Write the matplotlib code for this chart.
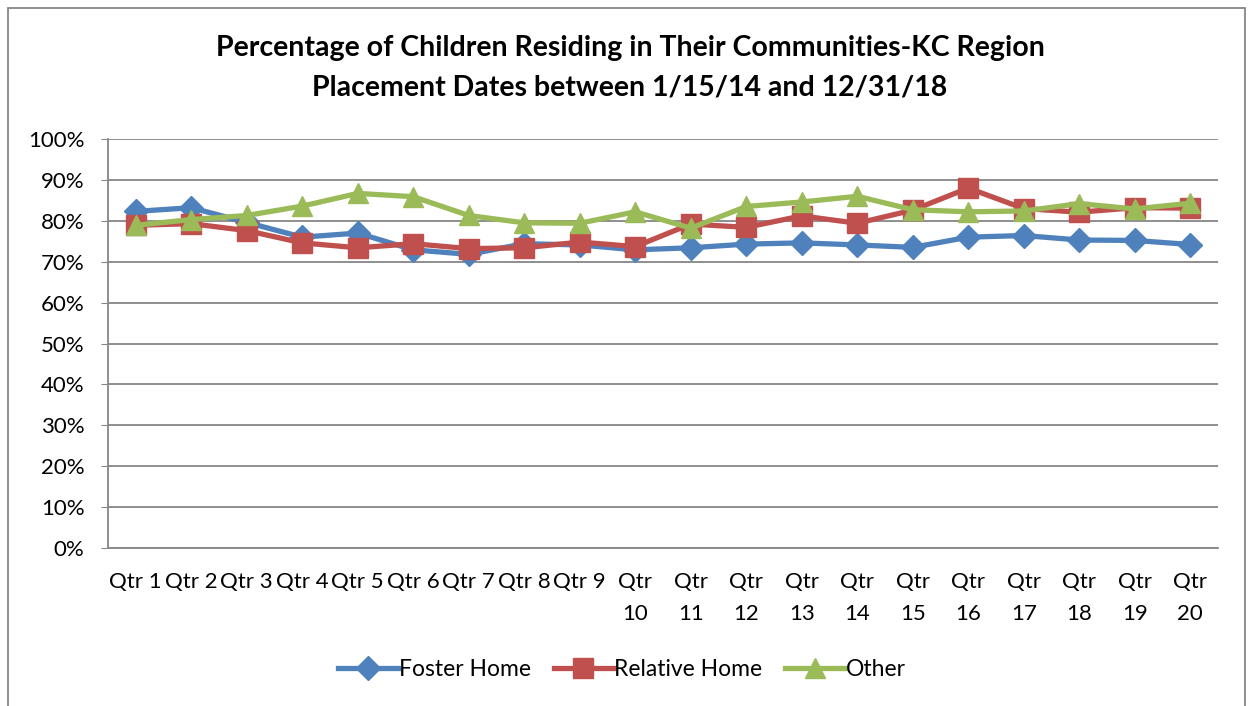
import matplotlib.pyplot as plt
import matplotlib.patches as patches
from matplotlib.ticker import PercentFormatter

quarters = ['Qtr 1', 'Qtr 2', 'Qtr 3', 'Qtr 4', 'Qtr 5', 'Qtr 6', 'Qtr 7', 'Qtr 8', 'Qtr 9',
            'Qtr\n10', 'Qtr\n11', 'Qtr\n12', 'Qtr\n13', 'Qtr\n14', 'Qtr\n15', 'Qtr\n16',
            'Qtr\n17', 'Qtr\n18', 'Qtr\n19', 'Qtr\n20']
foster = [82.3, 83.2, 79.6, 76.0, 77.0, 72.9, 71.8, 74.4, 74.1, 72.9, 73.4, 74.3,
          74.6, 74.1, 73.5, 76.0, 76.4, 75.3, 75.2, 74.2]
relative = [78.9, 79.3, 77.6, 74.6, 73.4, 74.4, 73.2, 73.4, 74.8, 73.7, 79.2, 78.4,
            81.2, 79.4, 82.6, 88.0, 83.0, 82.1, 83.2, 83.1]
other = [78.9, 80.3, 81.3, 83.6, 86.7, 85.9, 81.3, 79.5, 79.4, 82.2, 78.2, 83.5,
         84.6, 86.0, 82.7, 82.2, 82.4, 84.2, 82.9, 84.3]

plt.rcParams['font.family'] = ['Lato', 'DejaVu Sans']

fig = plt.figure(figsize=(12.53, 7.06), dpi=100)
ax = fig.add_axes([108 / 1253, 1 - 548 / 706, (1218 - 108) / 1253, (548 - 139) / 706])

x = list(range(len(quarters)))
ax.plot(x, foster, color='#4F81BD', lw=3.8, marker='D', ms=12, label='Foster Home')
ax.plot(x, relative, color='#C0504D', lw=3.8, marker='s', ms=14, label='Relative Home')
ax.plot(x, other, color='#9BBB59', lw=3.8, marker='^', ms=15, label='Other')

ax.set_ylim(0, 100)
ax.set_yticks(range(0, 101, 10))
ax.yaxis.set_major_formatter(PercentFormatter(decimals=0))
ax.set_xlim(-0.5, len(quarters) - 0.5)
ax.set_xticks(x)
ax.set_xticklabels(quarters, linespacing=1.75, va='top')
ax.tick_params(axis='both', labelsize=16, colors='#000000', length=0)
ax.tick_params(axis='x', pad=17)
ax.tick_params(axis='y', pad=12, length=5, color='#868686')
ax.grid(axis='y', color='#868686', lw=1.3)
ax.set_axisbelow(True)
for s in ['top', 'right']:
    ax.spines[s].set_visible(False)
for s in ['left', 'bottom']:
    ax.spines[s].set_color('#868686')
    ax.spines[s].set_linewidth(1.3)

fig.suptitle('Percentage of Children Residing in Their Communities-KC Region\n'
             'Placement Dates between 1/15/14 and 12/31/18',
             x=630 / 1253, y=1 - 35 / 706, fontsize=20.5, fontweight='bold', linespacing=1.65)

ax.legend(loc='center', bbox_to_anchor=(622 / 1253, 1 - 670 / 706),
          bbox_transform=fig.transFigure, ncol=3, frameon=False, fontsize=16.5,
          handlelength=2.6, columnspacing=1.0, handletextpad=0.05)

fig.patches.append(patches.Rectangle((8 / 1253, -0.1), 1237 / 1253, 1 - 8 / 706 + 0.1,
                                     transform=fig.transFigure, fill=False,
                                     edgecolor='#868686', lw=1.3))

fig.savefig('out.png', dpi=100)
